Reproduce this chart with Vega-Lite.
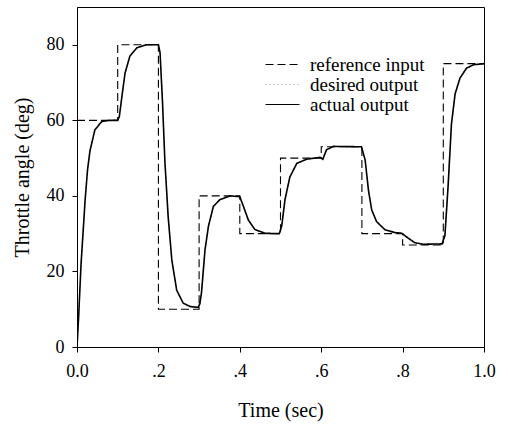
{
  "$schema": "https://vega.github.io/schema/vega-lite/v6.json",
  "width": 407,
  "height": 340,
  "autosize": "none",
  "padding": {"left": 77, "top": 7, "right": 24, "bottom": 81},
  "background": "white",
  "config": {
    "font": "Liberation Serif",
    "view": {"stroke": "black", "strokeWidth": 1},
    "axis": {"grid": false, "domainColor": "black", "tickColor": "black", "labelColor": "black", "titleColor": "black", "labelFont": "Liberation Serif", "titleFont": "Liberation Serif", "labelFontSize": 18, "titleFontSize": 20, "titleFontWeight": "normal", "tickSize": 5}
  },
  "datasets": {
    "ref": [
      {"t": 0, "v": 60}, {"t": 0.1, "v": 60}, {"t": 0.1, "v": 80}, {"t": 0.2, "v": 80}, {"t": 0.2, "v": 10}, {"t": 0.3, "v": 10}, {"t": 0.3, "v": 40}, {"t": 0.4, "v": 40}, {"t": 0.4, "v": 30}, {"t": 0.5, "v": 30}, {"t": 0.5, "v": 50}, {"t": 0.6, "v": 50}, {"t": 0.6, "v": 53}, {"t": 0.7, "v": 53}, {"t": 0.7, "v": 30}, {"t": 0.8, "v": 30}, {"t": 0.8, "v": 27}, {"t": 0.9, "v": 27}, {"t": 0.9, "v": 75}, {"t": 1.0, "v": 75}
    ],
    "act": [
      {"t": 0, "v": 0}, {"t": 0.004, "v": 8}, {"t": 0.01, "v": 22}, {"t": 0.02, "v": 39}, {"t": 0.026, "v": 47}, {"t": 0.032, "v": 52}, {"t": 0.044, "v": 57.5}, {"t": 0.061, "v": 59.7}, {"t": 0.08, "v": 60}, {"t": 0.1, "v": 60}, {"t": 0.104, "v": 61}, {"t": 0.11, "v": 66}, {"t": 0.118, "v": 72.5}, {"t": 0.13, "v": 77}, {"t": 0.147, "v": 79.2}, {"t": 0.17, "v": 80}, {"t": 0.2, "v": 80}, {"t": 0.204, "v": 78}, {"t": 0.21, "v": 65}, {"t": 0.216, "v": 49}, {"t": 0.224, "v": 34.5}, {"t": 0.233, "v": 23}, {"t": 0.245, "v": 15}, {"t": 0.261, "v": 11.6}, {"t": 0.278, "v": 10.7}, {"t": 0.298, "v": 10.5}, {"t": 0.302, "v": 11.5}, {"t": 0.306, "v": 14.5}, {"t": 0.3145, "v": 25.7}, {"t": 0.323, "v": 32}, {"t": 0.335, "v": 37.2}, {"t": 0.351, "v": 39}, {"t": 0.376, "v": 40}, {"t": 0.4, "v": 39.8}, {"t": 0.409, "v": 37.2}, {"t": 0.421, "v": 33.6}, {"t": 0.437, "v": 31.1}, {"t": 0.462, "v": 30.1}, {"t": 0.497, "v": 30}, {"t": 0.503, "v": 32}, {"t": 0.511, "v": 39}, {"t": 0.523, "v": 45}, {"t": 0.54, "v": 48.6}, {"t": 0.564, "v": 49.7}, {"t": 0.597, "v": 50.2}, {"t": 0.604, "v": 49.7}, {"t": 0.613, "v": 52.2}, {"t": 0.63, "v": 53.1}, {"t": 0.699, "v": 53}, {"t": 0.708, "v": 49.5}, {"t": 0.716, "v": 41.6}, {"t": 0.724, "v": 36.3}, {"t": 0.736, "v": 33.2}, {"t": 0.757, "v": 31}, {"t": 0.781, "v": 30.3}, {"t": 0.798, "v": 30.1}, {"t": 0.814, "v": 28.8}, {"t": 0.83, "v": 27.6}, {"t": 0.851, "v": 27.2}, {"t": 0.897, "v": 27.3}, {"t": 0.904, "v": 29.5}, {"t": 0.912, "v": 43}, {"t": 0.92, "v": 59}, {"t": 0.929, "v": 67}, {"t": 0.941, "v": 71.2}, {"t": 0.957, "v": 73.8}, {"t": 0.974, "v": 74.7}, {"t": 1.0, "v": 75}
    ]
  },
  "layer": [
    {
      "data": {"name": "ref"},
      "transform": [
        {"window": [{"op": "row_number", "as": "i"}]},
        {"calculate": "'reference input'", "as": "series"}
      ],
      "mark": {"type": "line", "strokeWidth": 1.1, "clip": true},
      "encoding": {
        "x": {"field": "t", "type": "quantitative"},
        "y": {"field": "v", "type": "quantitative"},
        "order": {"field": "i", "type": "quantitative"},
        "color": {"field": "series", "type": "nominal"},
        "strokeDash": {"field": "series", "type": "nominal"}
      }
    },
    {
      "data": {"name": "act"},
      "transform": [
        {"window": [{"op": "row_number", "as": "i"}]},
        {"calculate": "'desired output'", "as": "series"}
      ],
      "mark": {"type": "line", "strokeWidth": 1.2, "clip": true},
      "encoding": {
        "x": {"field": "t", "type": "quantitative"},
        "y": {"field": "v", "type": "quantitative"},
        "order": {"field": "i", "type": "quantitative"},
        "color": {"field": "series", "type": "nominal"},
        "strokeDash": {"field": "series", "type": "nominal"}
      }
    },
    {
      "data": {"name": "act"},
      "transform": [
        {"window": [{"op": "row_number", "as": "i"}]},
        {"calculate": "'actual output'", "as": "series"}
      ],
      "mark": {"type": "line", "strokeWidth": 1.6, "clip": true},
      "encoding": {
        "x": {"field": "t", "type": "quantitative", "scale": {"domain": [0, 1], "nice": false},
          "axis": {"values": [0, 0.2, 0.4, 0.6, 0.8, 1.0], "labelExpr": "datum.value == 0 ? '0.0' : datum.value == 1 ? '1.0' : replace(format(datum.value, '.1f'), '0.', '.')", "labelPadding": 10, "title": "Time (sec)", "titlePadding": 20, "labelFlush": false}},
        "y": {"field": "v", "type": "quantitative", "scale": {"domain": [0, 90], "nice": false},
          "axis": {"values": [0, 20, 40, 60, 80], "labelPadding": 8, "title": "Throttle angle (deg)", "titlePadding": 14}},
        "order": {"field": "i", "type": "quantitative"},
        "color": {"field": "series", "type": "nominal",
          "scale": {"domain": ["reference input", "desired output", "actual output"], "range": ["black", "#9a9a9a", "black"]},
          "legend": {"title": null, "orient": "none", "legendX": 196, "legendY": 48, "symbolType": "M-2,0H2", "symbolSize": 289, "symbolStrokeWidth": 1.2, "symbolFillColor": "transparent", "labelFontSize": 19, "labelFont": "Liberation Serif", "labelColor": "black", "labelOffset": 18, "rowPadding": -1}},
        "strokeDash": {"field": "series", "type": "nominal",
          "scale": {"domain": ["reference input", "desired output", "actual output"], "range": [[8, 4], [1, 3], [1, 0]]}}
      }
    }
  ]
}
